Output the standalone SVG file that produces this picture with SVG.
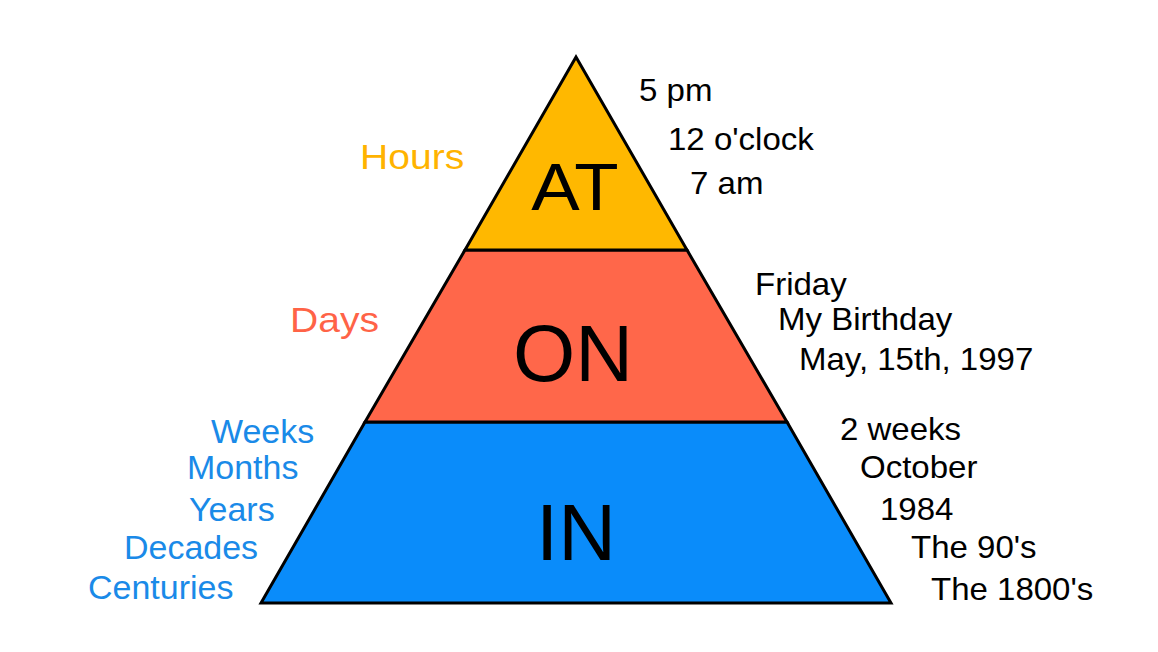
<svg xmlns="http://www.w3.org/2000/svg" width="1158" height="652" viewBox="0 0 1158 652">
<style>
.tier{stroke:#000;stroke-width:3;stroke-linejoin:miter}
.big{font-family:"Liberation Sans",Arial,sans-serif;fill:#000;text-anchor:middle}
.ex{font-family:"Liberation Sans",Arial,sans-serif;font-size:31px;fill:#000}
.cat{font-family:"Liberation Sans",Arial,sans-serif;font-size:36px}
.blue{font-family:"Liberation Sans",Arial,sans-serif;font-size:33px;fill:#1A8AE8}
</style>
<rect width="1158" height="652" fill="#fff"/>
<g id="tier-in">
<polygon class="tier" fill="#0A8CFA" points="365,422 787,422 891,603 261,603"/>
<text class="big" x="576" y="560" font-size="80">IN</text>
</g>
<g id="tier-on">
<polygon class="tier" fill="#FF674A" points="465,250 687,250 787,422 365,422"/>
<text class="big" x="573" y="381" font-size="80">ON</text>
</g>
<g id="tier-at">
<polygon class="tier" fill="#FFB800" points="576,57 687,250 465,250"/>
<text class="big" transform="translate(575,210) scale(1.1,1)" font-size="66">AT</text>
</g>
<g id="labels-left">
<text class="cat" transform="translate(360,169) scale(1.085,1)" fill="#FFB300">Hours</text>
<text class="cat" transform="translate(290,332) scale(1.085,1)" fill="#FF6347">Days</text>
<text class="blue" transform="translate(211,443) scale(1.03,1)">Weeks</text>
<text class="blue" transform="translate(187,479) scale(1.03,1)">Months</text>
<text class="blue" transform="translate(189,521) scale(1.03,1)">Years</text>
<text class="blue" transform="translate(124,559) scale(1.03,1)">Decades</text>
<text class="blue" transform="translate(88,599) scale(1.03,1)">Centuries</text>
</g>
<g id="examples-right">
<text class="ex" transform="translate(639,101) scale(1.065,1)">5 pm</text>
<text class="ex" transform="translate(668,150) scale(1.065,1)">12 o'clock</text>
<text class="ex" transform="translate(690,194) scale(1.065,1)">7 am</text>
<text class="ex" transform="translate(755,295) scale(1.065,1)">Friday</text>
<text class="ex" transform="translate(778,330) scale(1.065,1)">My Birthday</text>
<text class="ex" transform="translate(799,370) scale(1.065,1)">May, 15th, 1997</text>
<text class="ex" transform="translate(840,440) scale(1.065,1)">2 weeks</text>
<text class="ex" transform="translate(860,478) scale(1.065,1)">October</text>
<text class="ex" transform="translate(880,520) scale(1.065,1)">1984</text>
<text class="ex" transform="translate(911,558) scale(1.065,1)">The 90's</text>
<text class="ex" transform="translate(931,600) scale(1.065,1)">The 1800's</text>
</g>
<g id="connectors"></g>
</svg>
